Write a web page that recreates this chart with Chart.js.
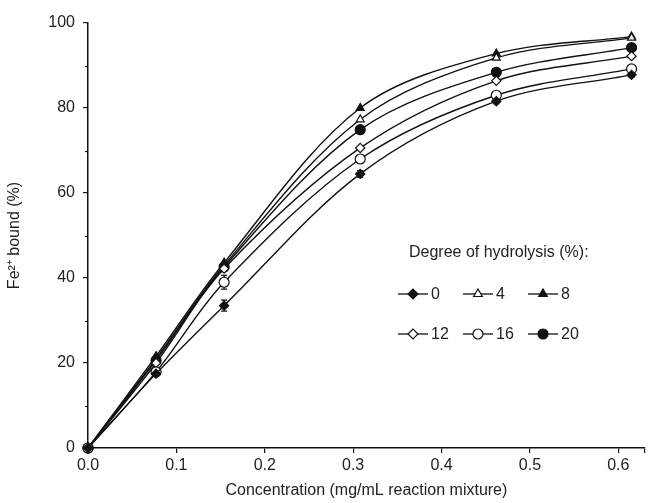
<!DOCTYPE html>
<html>
<head>
<meta charset="utf-8">
<script src="https://cdn.jsdelivr.net/npm/chart.js@4/dist/chart.umd.min.js"></script>
<style>
  html, body { margin: 0; padding: 0; background: #fff; }
  #wrap { width: 651px; height: 503px; }
</style>
</head>
<body>
<div id="wrap"><canvas id="chart"></canvas></div>
<script>
// concentration (mg/mL reaction mixture)
var conc = [0, 0.077, 0.154, 0.308, 0.462, 0.615];

// Fe2+ bound (%) per degree of hydrolysis
var dh0  = [0, 17.5, 33.5, 64.5, 81.6, 87.8];
var dh4  = [0, 21.0, 43.0, 77.3, 91.8, 96.5];
var dh8  = [0, 21.6, 43.6, 80.0, 92.8, 96.8];
var dh12 = [0, 20.0, 42.2, 70.6, 86.4, 92.2];
var dh16 = [0, 17.9, 39.0, 68.0, 83.0, 89.2];
var dh20 = [0, 20.6, 42.6, 74.9, 88.4, 94.2];

// standard deviations (small, mostly hidden under the markers)
var err0  = [0, 0.6, 1.3, 0.8, 0.6, 0.6];
var err16 = [0, 0.8, 1.6, 1.0, 0.7, 0.7];

var xTicks = [0, 0.1, 0.2, 0.3, 0.4, 0.5, 0.6];
var yTicks = [0, 20, 40, 60, 80, 100];

var black = '#111';

function series(label, data, style, filled, err) {
	return {
		label: label,
		data: conc.map(function(x, i) { return { x: x, y: data[i] }; }),
		err: err || null,
		borderColor: black,
		borderWidth: 1.4,
		backgroundColor: filled ? black : '#fff',
		pointBackgroundColor: filled ? black : '#fff',
		pointBorderColor: black,
		pointBorderWidth: 1.2,
		pointStyle: style,
		pointRadius: style === 'circle' ? 5 : 4.6,
		tension: 0.33,
		clip: false
	};
}

var datasets = [
	series('0',  dh0,  'rectRot',  true,  err0),
	series('16', dh16, 'circle',   false, err16),
	series('12', dh12, 'rectRot',  false),
	series('20', dh20, 'circle',   true),
	series('4',  dh4,  'triangle', false),
	series('8',  dh8,  'triangle', true)
];

// error bars, drawn through the scales
var errorBars = {
	id: 'errorBars',
	beforeDatasetsDraw: function(chart) {
		var ctx = chart.ctx, xs = chart.scales.x, ys = chart.scales.y;
		ctx.save();
		ctx.strokeStyle = black;
		ctx.lineWidth = 1.2;
		chart.data.datasets.forEach(function(ds) {
			if (!ds.err) return;
			ds.data.forEach(function(p, i) {
				var e = ds.err[i];
				if (!e) return;
				var px = xs.getPixelForValue(p.x);
				var y1 = ys.getPixelForValue(p.y - e), y2 = ys.getPixelForValue(p.y + e);
				ctx.beginPath();
				ctx.moveTo(px, y1); ctx.lineTo(px, y2);
				ctx.moveTo(px - 3, y1); ctx.lineTo(px + 3, y1);
				ctx.moveTo(px - 3, y2); ctx.lineTo(px + 3, y2);
				ctx.stroke();
			});
		});
		ctx.restore();
	}
};

// minor ticks on the y axis
var minorTicks = {
	id: 'minorTicks',
	afterDraw: function(chart) {
		var ctx = chart.ctx, ys = chart.scales.y, left = chart.chartArea.left;
		ctx.save();
		ctx.strokeStyle = black;
		ctx.lineWidth = 1.2;
		for (var v = 10; v < 100; v += 20) {
			var py = Math.round(ys.getPixelForValue(v)) + 0.5;
			ctx.beginPath();
			ctx.moveTo(left - 3, py); ctx.lineTo(left, py);
			ctx.stroke();
		}
		ctx.restore();
	}
};

// legend inside the plot area
var innerLegend = {
	id: 'innerLegend',
	afterDraw: function(chart) {
		var ctx = chart.ctx;
		ctx.save();
		ctx.fillStyle = '#222';
		ctx.font = '16px "Liberation Sans", Arial, sans-serif';
		ctx.textBaseline = 'middle';
		ctx.textAlign = 'left';
		ctx.fillText('Degree of hydrolysis (%):', 409, 253);
		var order = ['0', '4', '8', '12', '16', '20'];
		order.forEach(function(lbl, k) {
			var ds = chart.data.datasets.filter(function(d) { return d.label === lbl; })[0];
			var cx = 413 + (k % 3) * 65;
			var cy = k < 3 ? 294 : 334;
			ctx.strokeStyle = black;
			ctx.lineWidth = 1.3;
			ctx.beginPath();
			ctx.moveTo(cx - 15, cy); ctx.lineTo(cx + 15, cy);
			ctx.stroke();
			ctx.fillStyle = ds.pointBackgroundColor;
			ctx.strokeStyle = black;
			ctx.lineWidth = 1.2;
			Chart.helpers.drawPoint(ctx, { pointStyle: ds.pointStyle, radius: 5, rotation: 0, borderWidth: 1.2 }, cx, cy);
			ctx.fillStyle = '#222';
			ctx.fillText(lbl, cx + 18, cy + 1);
		});
		ctx.restore();
	}
};

var font = { family: '"Liberation Sans", Arial, sans-serif', size: 16 };

new Chart(document.getElementById('chart'), {
	type: 'line',
	data: { datasets: datasets },
	options: {
		responsive: true,
		maintainAspectRatio: false,
		animation: false,
		layout: { padding: { top: 23, right: 1, left: 2, bottom: 0 } },
		plugins: { legend: { display: false }, tooltip: { enabled: false } },
		scales: {
			x: {
				type: 'linear',
				min: 0,
				max: 0.63,
				border: { display: true, color: black, width: 1.5 },
				grid: { drawOnChartArea: false, drawTicks: true, tickLength: 5, color: black, lineWidth: 1.2 },
				afterBuildTicks: function(scale) {
					scale.ticks = xTicks.concat([0.63]).map(function(v) { return { value: v }; });
				},
				ticks: {
					autoSkip: false,
					color: '#222',
					font: font,
					padding: 3,
					maxRotation: 0,
					callback: function(v) { return xTicks.indexOf(v) >= 0 ? v.toFixed(1) : ''; }
				},
				title: { display: true, text: 'Concentration (mg/mL reaction mixture)', color: '#222', font: font, padding: { top: 4, bottom: 3 } },
				afterFit: function(scale) { scale.height = 55; }
			},
			y: {
				min: 0,
				max: 100,
				border: { display: true, color: black, width: 1.5 },
				grid: { drawOnChartArea: false, drawTicks: true, tickLength: 5, color: black, lineWidth: 1.2 },
				ticks: {
					stepSize: 20,
					color: '#222',
					font: font,
					padding: 8,
					callback: function(v) { return yTicks.indexOf(v) >= 0 ? String(v) : ''; }
				},
				title: { display: true, text: 'Fe²⁺ bound (%)', color: '#222', font: { family: font.family, size: 16 }, padding: { top: 3, bottom: 0 } },
				afterFit: function(scale) { scale.width = 86; }
			}
		}
	},
	plugins: [errorBars, minorTicks, innerLegend]
});
</script>
</body>
</html>
